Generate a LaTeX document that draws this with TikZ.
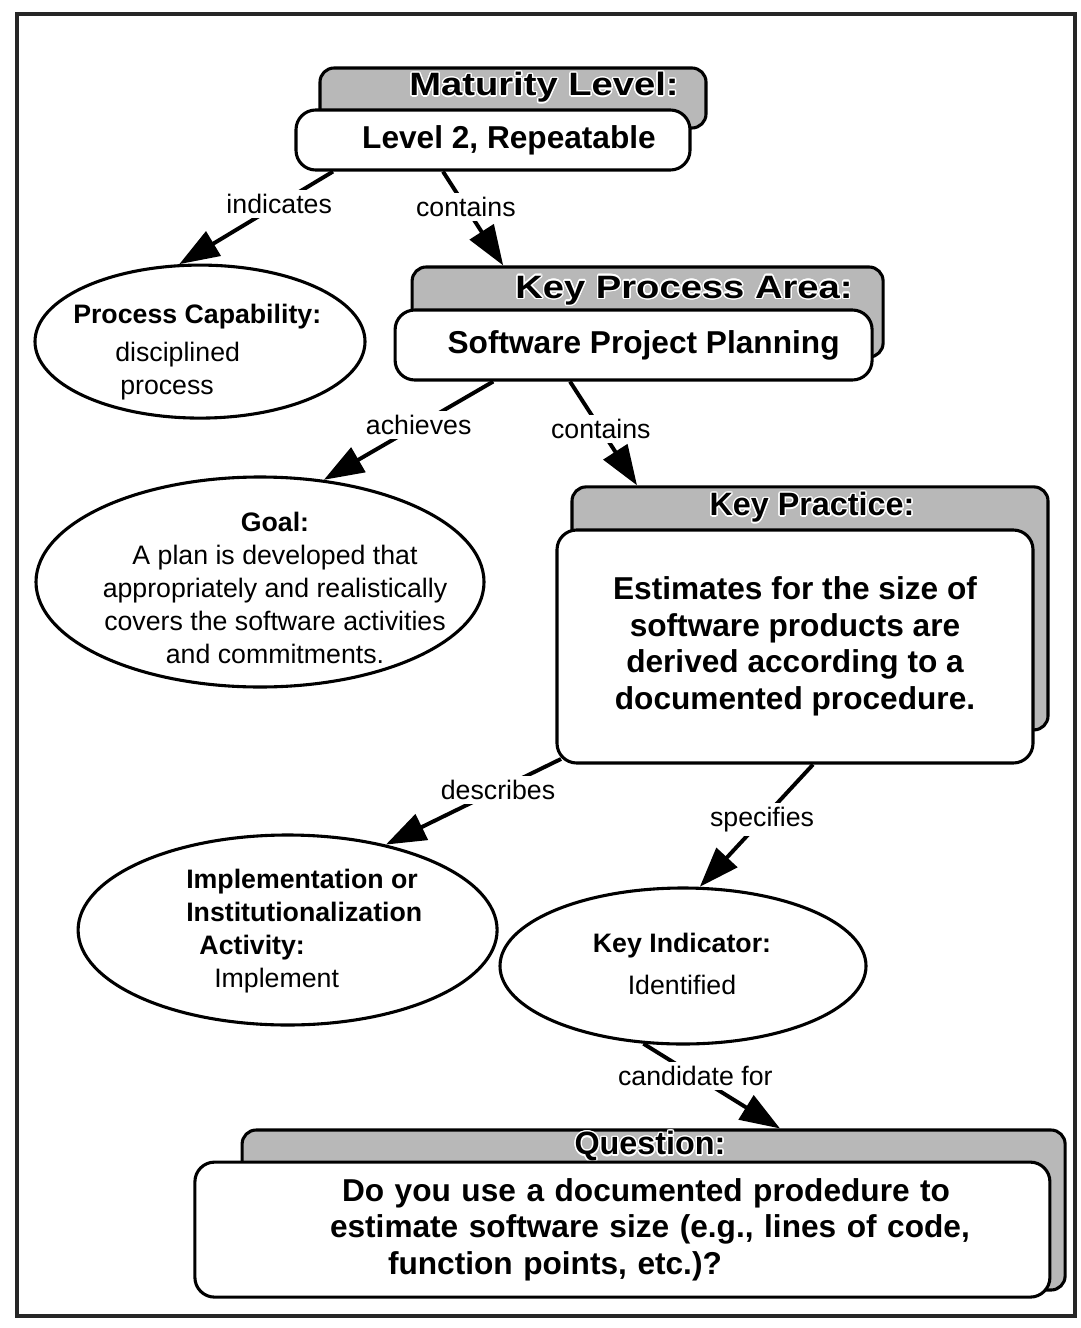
\documentclass[tikz,border=0pt]{standalone}
\usepackage{fontspec}
\setmainfont{Liberation Sans}
\usepackage{graphicx}
\usepackage[copies]{contour}
\contourlength{1pt}
\usetikzlibrary{arrows.meta,shapes.geometric}

\tikzset{
  frame/.style={draw=black!85, line width=3pt},
  back/.style={draw, line width=2.2pt, rounded corners=10pt, fill=black!28},
  front/.style={draw, line width=2.2pt, rounded corners=14pt, fill=white, align=center,
    font=\bfseries\fontsize{22.5}{26}\selectfont},
  hdr/.style={inner sep=0pt, font=\bfseries\fontsize{23}{26}\selectfont},
  oval/.style={draw, ellipse, line width=2.2pt, inner sep=0pt},
  otext/.style={align=center, inner sep=0pt, font=\fontsize{19}{23.5}\selectfont},
  conn/.style={line width=2.8pt, -{Triangle[length=1cm,width=0.7cm]}},
  lbl/.style={fill=white, inner sep=3pt, font=\fontsize{19}{23}\selectfont}
}

\begin{document}
\begin{tikzpicture}
  \useasboundingbox (0,0) rectangle (27.025,-33.2);
  \draw[frame] (0.425,-0.35) rectangle (26.875,-32.9);

  % maturity level
  \node[back, minimum width=9.65cm, minimum height=1.5cm] (mlback) at (12.825,-2.45) {};
  \node[hdr] (mlhdr) at (13.6,-2.2) {\contour{white}{\scalebox{1.18}[1]{Maturity Level:}}};
  \node[front, minimum width=9.85cm, minimum height=1.5cm] (ml) at (12.325,-3.5) {\hspace*{0.8cm}Level 2, Repeatable};

  % key process area
  \node[back, minimum width=11.775cm, minimum height=2.25cm] (kpaback) at (16.19,-7.8) {};
  \node[hdr] (kpahdr) at (17.1,-7.275) {\contour{white}{\scalebox{1.18}[1]{Key Process Area:}}};
  \node[front, minimum width=11.925cm, minimum height=1.75cm] (kpa) at (15.84,-8.625) {\hspace*{0.5cm}Software Project Planning};

  % key practice
  \node[back, minimum width=11.9cm, minimum height=6.075cm] (kpback) at (20.25,-15.21) {};
  \node[hdr] (kphdr) at (20.3,-12.7) {\contour{white}{Key Practice:}};
  \node[front, minimum width=11.9cm, minimum height=5.825cm] (kp) at (19.875,-16.1625)
    {Estimates for the size of\\ software products are\\ derived according to a\\ documented procedure.};

  % question
  \node[back, minimum width=20.575cm, minimum height=4cm] (qback) at (16.34,-30.25) {};
  \node[hdr] (qhdr) at (16.25,-28.675) {\contour{white}{Question:}};
  \node[front, align=left, text width=19cm, minimum width=21.375cm, minimum height=3.375cm] (q) at (15.56,-30.74)
    {\hspace*{2.49cm}Do you use a documented prodedure to\\
     \hspace*{2.19cm}estimate software size (e.g., lines of code,\\
     \hspace*{3.64cm}function points, etc.)?};

  % ellipses
  \node[oval, minimum width=8.25cm, minimum height=3.825cm] (pc) at (5.0,-8.54) {};
  \node[otext, align=left, anchor=west] (pctxt) at (1.825,-8.8)
    {\textbf{Process Capability:}\\[4pt] \hspace*{1.05cm}disciplined\\ \hspace*{1.175cm}process};
  \node[oval, minimum width=11.2cm, minimum height=5.25cm] (goal) at (6.5,-14.55) {};
  \node[otext] (goaltxt) at (6.875,-14.7) {\textbf{Goal:}\\ A plan is developed that\\ appropriately and realistically\\ covers the software activities\\ and commitments.};
  \node[oval, minimum width=10.475cm, minimum height=4.75cm] (impl) at (7.19,-23.25) {};
  \node[otext, align=left, anchor=west] (impltxt) at (4.65,-23.275)
    {\textbf{Implementation or}\\ \textbf{Institutionalization}\\ \hspace*{0.33cm}\textbf{Activity:}\\ \hspace*{0.7cm}Implement};
  \node[oval, minimum width=9.15cm, minimum height=3.9cm] (ki) at (17.075,-24.15) {};
  \node[otext] (kitxt) at (17.05,-24.1) {\textbf{Key Indicator:}\\[6pt] Identified};

  % connectors
  \draw[conn] ([xshift=-4cm]ml.south) -- node[lbl, pos=0.35] (lindicates) {indicates} (pc.105);
  \draw[conn] ([xshift=-1.25cm]ml.south) -- node[lbl, pos=0.38] (lcontainsa) {contains} ([xshift=-3.61cm]kpaback.north);
  \draw[conn] ([xshift=-3.51cm]kpa.south) -- node[lbl, pos=0.44] (lachieves) {achieves} (goal.58);
  \draw[conn] ([xshift=-1.59cm]kpa.south) -- node[lbl, pos=0.46] (lcontainsb) {contains} ([xshift=-4.325cm]kpback.north);
  \draw[conn] ([shift={(0.14,0.14)}]kp.south west) -- node[lbl, pos=0.36] (ldescribes) {describes} (impl.41);
  \draw[conn] ([xshift=0.45cm]kp.south) -- node[lbl, pos=0.45] (lspecifies) {specifies} (ki.78);
  \draw[conn] (ki.-117) -- node[lbl, pos=0.38] (lcandidate) {candidate for} ([xshift=3.16cm]qback.north);
\end{tikzpicture}
\end{document}
